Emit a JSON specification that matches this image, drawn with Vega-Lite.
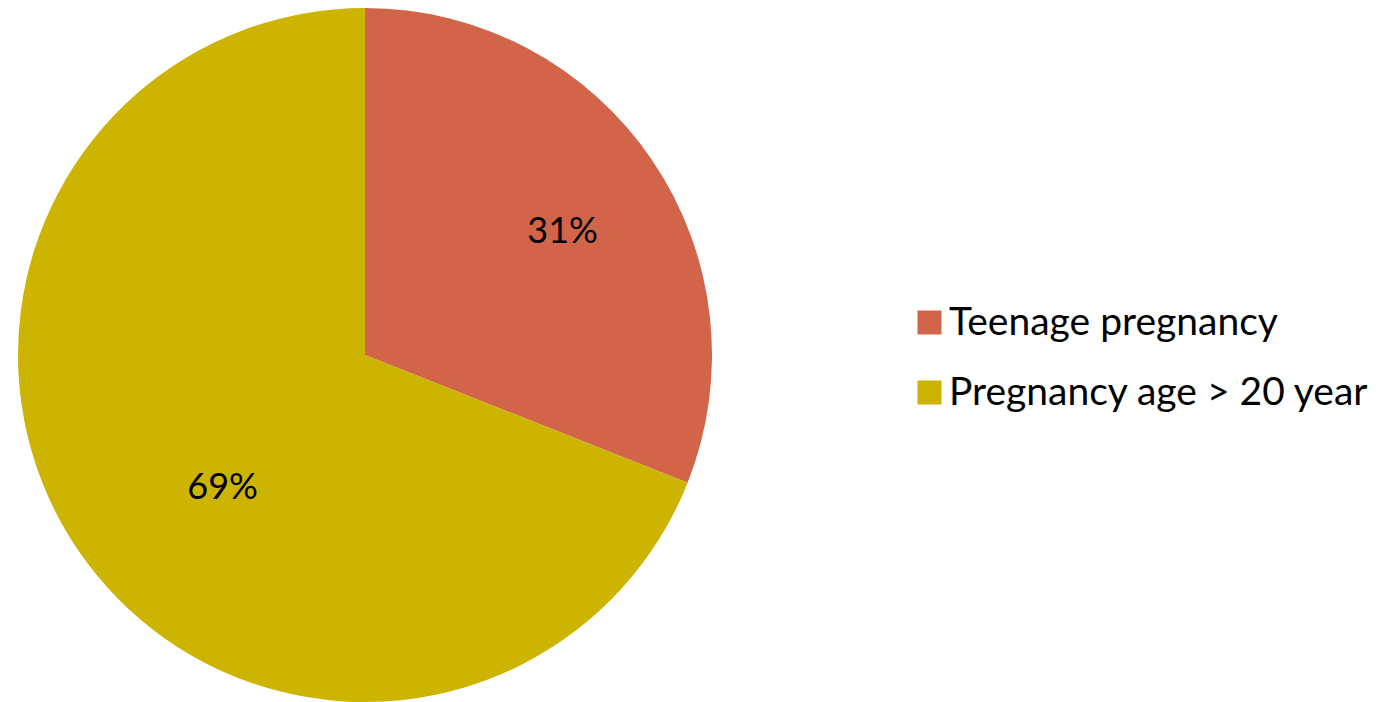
{
  "$schema": "https://vega.github.io/schema/vega-lite/v6.json",
  "width": 730,
  "height": 710,
  "padding": 0,
  "autosize": {"type": "pad"},
  "background": "white",
  "config": {"view": {"stroke": null}, "font": "Lato"},
  "data": {"values": [
    {"category": "Teenage pregnancy", "value": 31, "label": "31%", "order": 1},
    {"category": "Pregnancy age > 20 year", "value": 69, "label": "69%", "order": 2}
  ]},
  "transform": [
    {"stack": "value", "groupby": [], "sort": [{"field": "order", "order": "ascending"}], "as": ["v0", "v1"]}
  ],
  "encoding": {
    "theta": {"field": "v0", "type": "quantitative", "scale": {"domain": [0, 100]}}
  },
  "layer": [
    {
      "mark": {"type": "arc", "radius": 347},
      "encoding": {
        "theta2": {"field": "v1"},
        "color": {
          "field": "category", "type": "nominal",
          "sort": ["Teenage pregnancy", "Pregnancy age > 20 year"],
          "scale": {"domain": ["Teenage pregnancy", "Pregnancy age > 20 year"], "range": ["#D2644A", "#CDB400"]},
          "legend": {
            "title": null, "orient": "none", "legendX": 910, "legendY": 303,
            "symbolType": "square", "symbolSize": 576, "symbolStrokeWidth": 0,
            "labelFontSize": 39, "labelFont": "Lato", "labelColor": "black",
            "rowPadding": 30, "labelOffset": 0, "labelLimit": 600
          }
        }
      }
    },
    {
      "transform": [{"filter": "datum.order == 1"}],
      "mark": {"type": "text", "radius": 233, "thetaOffset": 1.0123, "fontSize": 36, "font": "Lato", "color": "black"},
      "encoding": {"text": {"field": "label"}}
    },
    {
      "transform": [{"filter": "datum.order == 2"}],
      "mark": {"type": "text", "radius": 195, "thetaOffset": 2.0124, "fontSize": 36, "font": "Lato", "color": "black"},
      "encoding": {"text": {"field": "label"}}
    }
  ]
}
